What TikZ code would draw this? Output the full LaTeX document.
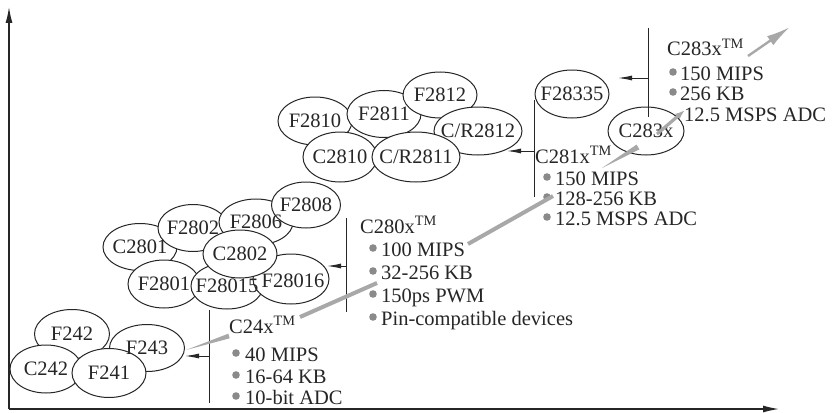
\documentclass[tikz,border=0pt]{standalone}
\usepackage{fontspec}
\setmainfont{Liberation Serif}
\usetikzlibrary{shapes.geometric,arrows.meta,calc}
\definecolor{ink}{HTML}{262626}
\definecolor{streak}{HTML}{A8A8A8}
\definecolor{bulgray}{HTML}{8A8A8A}
\begin{document}
\begin{tikzpicture}[x=1pt,y=-1pt,
  every node/.style={font=\fontsize{20.5}{22}\selectfont, text=ink},
  chip/.style={ellipse, draw=ink, line width=1pt, fill=white, inner sep=0pt},
  chiptext/.style={inner sep=0pt},
  lbl/.style={anchor=base west, inner sep=0pt},
  bus/.style={draw=ink, line width=1pt},
  ptr/.style={draw=ink, line width=1pt, -{Latex[length=14pt,width=5pt]}},
  axis/.style={draw=ink, line width=1.3pt, -{Latex[length=16pt,width=7pt]}},
  streakline/.style={draw=streak, line width=4pt},
  bul/.style={fill=bulgray}
]
\useasboundingbox (0,0) rectangle (832,412);
\fill[white] (0,0) rectangle (832,412);

% axes
\coordinate (O) at (9,409);
\coordinate (Ytop) at (9,7);
\coordinate (Xend) at (779,409);
\draw[axis] (O) -- (Ytop);
\draw[axis] (O) -- (Xend);

% ---- cluster C24x
\node[chip, minimum width=75pt, minimum height=49pt] (F242) at (72,334) {};
\node[chip, minimum width=75pt, minimum height=47pt] (F243) at (147,348) {};
\node[chip, minimum width=72pt, minimum height=48pt] (C242) at (46,369) {};
\node[chip, minimum width=74pt, minimum height=49pt] (F241) at (109,373) {};

% ---- cluster C280x
\node[chip, minimum width=74pt, minimum height=47pt] (C2801) at (140,247) {};
\node[chip, minimum width=70pt, minimum height=47pt] (F2802) at (193,228) {};
\node[chip, minimum width=74pt, minimum height=46pt] (F2806) at (256,222) {};
\node[chip, minimum width=69pt, minimum height=46pt] (F2808) at (306,205) {};
\node[chip, minimum width=72pt, minimum height=48pt] (F2801) at (164,284) {};
\node[chip, minimum width=72pt, minimum height=46pt] (F28015) at (227,286) {};
\node[chip, minimum width=76pt, minimum height=50pt] (F28016) at (291,279) {};
\node[chip, minimum width=74pt, minimum height=48pt] (C2802) at (240,254) {};

% ---- cluster C281x
\node[chip, minimum width=74pt, minimum height=48pt] (F2810) at (315,121) {};
\node[chip, minimum width=74pt, minimum height=47pt] (F2811) at (384,114) {};
\node[chip, minimum width=74pt, minimum height=46pt] (F2812) at (440,95) {};
\node[chip, minimum width=74pt, minimum height=50pt] (C2810) at (340,157) {};
\node[chip, minimum width=88pt, minimum height=48pt] (CR2812) at (478,131) {};
\node[chip, minimum width=88pt, minimum height=50pt] (CR2811) at (416,157) {};

% ---- C28335 / C283x
\node[chip, minimum width=74pt, minimum height=48pt] (F28335) at (572,94) {};
\node[chip, minimum width=76pt, minimum height=48pt] (C283x) at (646,131) {};

% ---- device names, on top of all outlines
\foreach \n/\t in {F242/F242,F243/F243,C242/C242,F241/F241,
  C2801/C2801,F2802/F2802,F2806/F2806,F2808/F2808,F2801/F2801,
  F28015/F28015,C2802/C2802,
  F2810/F2810,F2811/F2811,F2812/F2812,C2810/C2810,
  CR2812/{C/R2812},CR2811/{C/R2811},F28335/F28335,C283x/C283x}
  \node[chiptext] (\n-t) at (\n.center) {\t};
\node[chiptext] (F28016-t) at ($(F28016.center)+(2,2)$) {F28016};

% ---- vertical bars and pointers
\coordinate (v24t) at (209,310); \coordinate (v24b) at (209,403);
\coordinate (p24) at (209,356); \coordinate (p24e) at (185,356);
\draw[bus] (v24t) -- (v24b);
\draw[ptr] (p24) -- (p24e);

\coordinate (v280t) at (346,218); \coordinate (v280b) at (346,312);
\coordinate (p280) at (346,266); \coordinate (p280e) at (327,266);
\draw[bus] (v280t) -- (v280b);
\draw[ptr] (p280) -- (p280e);

\coordinate (v281t) at (534,100); \coordinate (v281b) at (534,197);
\coordinate (p281) at (534,151); \coordinate (p281e) at (507,151);
\draw[bus] (v281t) -- (v281b);
\draw[ptr] (p281) -- (p281e);

\coordinate (v283t) at (648,28); \coordinate (v283b) at (648,117);
\coordinate (p283) at (648,78); \coordinate (p283e) at (618,78);
\draw[bus] (v283t) -- (v283b);
\draw[ptr] (p283) -- (p283e);

% ---- text blocks
\node[lbl] (t24) at (229,333) {C24x\textsuperscript{TM}};
\node[lbl] (t24a) at (245,361) {40 MIPS};
\node[lbl] (t24b) at (245,383) {16-64 KB};
\node[lbl] (t24c) at (245,404) {10-bit ADC};
\foreach \n in {t24a,t24b,t24c} \fill[bul] ($(\n.base west)+(-9,-8)$) circle (3.8pt);

\node[lbl] (t280) at (360,233) {C280x\textsuperscript{TM}};
\node[lbl] (t280a) at (381,256) {100 MIPS};
\node[lbl] (t280b) at (381,279) {32-256 KB};
\node[lbl] (t280c) at (381,302) {150ps PWM};
\node[lbl] (t280d) at (381,325) {Pin-compatible devices};
\foreach \n in {t280a,t280b,t280c,t280d} \fill[bul] ($(\n.base west)+(-8,-8)$) circle (3.8pt);

\node[lbl] (t281) at (535,163) {C281x\textsuperscript{TM}};
\node[lbl] (t281a) at (555,185) {150 MIPS};
\node[lbl] (t281b) at (555,205) {128-256 KB};
\node[lbl] (t281c) at (555,225) {12.5 MSPS ADC};
\foreach \n in {t281a,t281b,t281c} \fill[bul] ($(\n.base west)+(-8,-8)$) circle (3.8pt);

\node[lbl] (t283) at (667,56) {C283x\textsuperscript{TM}};
\node[lbl] (t283a) at (680,80) {150 MIPS};
\node[lbl] (t283b) at (680,100) {256 KB};
\node[lbl] (t283c) at (684,121) {12.5 MSPS ADC};
\foreach \n in {t283a,t283b} \fill[bul] ($(\n.base west)+(-7,-8)$) circle (3.8pt);

% ---- gray migration streak
\coordinate (s1a) at (186,350); \coordinate (s1b) at (229,336);
\coordinate (s2a) at (300,317); \coordinate (s2b) at (377,283);
\coordinate (s3a) at (468,244); \coordinate (s3b) at (553,196);
\coordinate (s4a) at (602,168); \coordinate (s4b) at (638,147);
\coordinate (s5a) at (657,134); \coordinate (s5b) at (685,110);
\coordinate (s6a) at (748,56);  \coordinate (s6b) at (790,27);
\fill[streak] (s1a) -- ($(s1b)!2.4pt!90:(s1a)$) -- ($(s1b)!2.4pt!-90:(s1a)$) -- cycle;
\draw[streakline] (s2a) -- (s2b);
\draw[streakline] (s3a) -- (s3b);
\fill[streak] (s4a) -- ($(s4b)!2.8pt!90:(s4a)$) -- ($(s4b)!2.8pt!-90:(s4a)$) -- cycle;
\draw[streak, line width=3.2pt, -{Latex[length=10pt,width=7pt]}] (s5a) -- (s5b);
\draw[streak, line width=2.4pt, -{Latex[length=24pt,width=11pt]}] (s6a) -- (s6b);
\end{tikzpicture}
\end{document}
